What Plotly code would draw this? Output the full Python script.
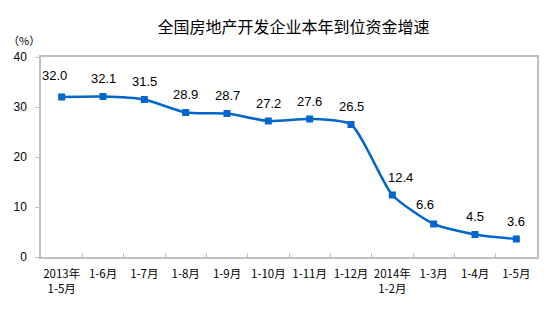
import plotly.graph_objects as go

# Cumulative periods and the growth of funds in place (%)
periods = ["2013年<br>1-5月", "1-6月", "1-7月", "1-8月", "1-9月", "1-10月",
           "1-11月", "1-12月", "2014年<br>1-2月", "1-3月", "1-4月", "1-5月"]
growth = [32.0, 32.1, 31.5, 28.9, 28.7, 27.2, 27.6, 26.5, 12.4, 6.6, 4.5, 3.6]
y_ticks = [0, 10, 20, 30, 40]

# Per-label nudges (pixels) so value labels clear the curve
label_dx = [-7, 0, 0, 0, 0, 0, 0, 0, 8, -9, 0, 0]
label_dy = [22, 18, 18, 18, 18, 18, 18, 18, 18, 20, 18, 18]

LINE = "#0066CC"
AXIS = "#BFBFBF"

fig = go.Figure()
fig.add_trace(go.Scatter(
    x=periods, y=growth, mode="lines+markers",
    line=dict(color=LINE, width=2.5, shape="spline", smoothing=0.6),
    marker=dict(symbol="square", size=7, color=LINE),
    hoverinfo="skip", showlegend=False,
))

for i, (p, v) in enumerate(zip(periods, growth)):
    fig.add_annotation(
        x=p, y=v, text=f"{v:.1f}", showarrow=False,
        xshift=label_dx[i], yshift=label_dy[i],
        font=dict(family="Liberation Sans, Arial", size=13, color="#000000"),
    )

fig.update_layout(
    width=554, height=333,
    margin=dict(l=41, r=17, t=57, b=76),
    paper_bgcolor="white", plot_bgcolor="white",
    title=dict(
        text="全国房地产开发企业本年到位资金增速",
        x=0.53, xanchor="center", y=0.918, yanchor="middle",
        font=dict(family="Noto Sans CJK SC", size=16, color="#000000"),
    ),
)

fig.update_xaxes(
    type="category", range=[-0.5, len(periods) - 0.5],
    showline=True, linecolor=AXIS, linewidth=1.5, mirror=True,
    showgrid=False, zeroline=False,
    ticks="inside", ticklen=4, tickcolor=AXIS, tickson="boundaries",
    tickangle=0, automargin=False, ticklabelstandoff=5,
    tickfont=dict(family="Noto Sans CJK SC", size=11.5, color="#000000"),
)
fig.update_yaxes(
    range=[0, 40], tickvals=y_ticks,
    showline=True, linecolor=AXIS, linewidth=1.5, mirror=True,
    showgrid=False, zeroline=False,
    ticks="outside", ticklen=4, tickcolor=AXIS, ticklabelstandoff=6,
    tickfont=dict(family="Liberation Sans, Arial", size=12, color="#000000"),
)

fig.add_annotation(
    text="（%）", xref="paper", yref="paper", x=-0.07, y=1.085,
    xanchor="left", yanchor="middle", showarrow=False,
    font=dict(family="Noto Sans CJK SC", size=11, color="#000000"),
)

fig.write_html("out.html")
